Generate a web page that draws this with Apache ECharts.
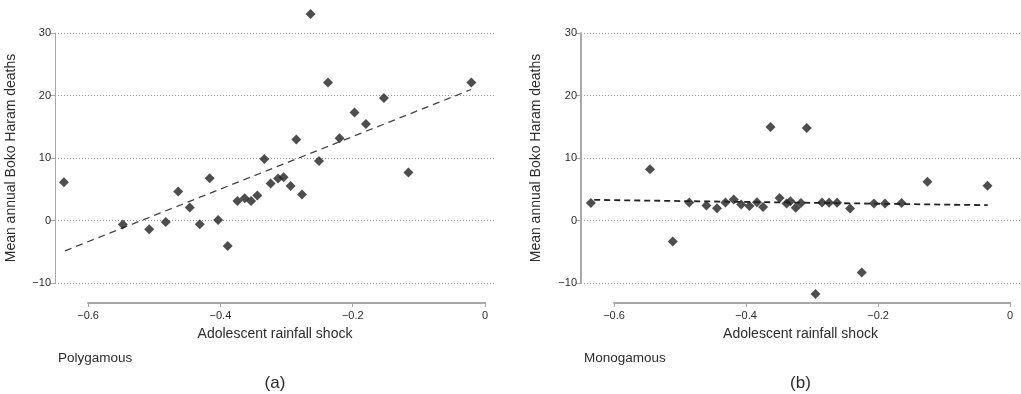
<!DOCTYPE html>
<html>
<head>
<meta charset="utf-8">
<script src="https://cdn.jsdelivr.net/npm/echarts@6/dist/echarts.min.js"></script>
<style>
  html, body { margin: 0; padding: 0; background: #fff; }
  #chart { width: 1021px; height: 394px; }
</style>
</head>
<body>
<div id="chart"></div>
<script>
// ---- Data ----
const polyX = [-0.6365, -0.5475, -0.5076, -0.4826, -0.4638, -0.4463, -0.4312, -0.4162, -0.4035, -0.389,
               -0.3743, -0.3633, -0.3537, -0.3442, -0.3336, -0.3241, -0.3129, -0.3045, -0.2939, -0.2853,
               -0.2767, -0.2637, -0.251, -0.2374, -0.2199, -0.1973, -0.1801, -0.1529, -0.1158, -0.0207];
const polyY = [6.13, -0.64, -1.39, -0.22, 4.64, 2.08, -0.59, 6.77, 0.1, -4.06,
               3.14, 3.57, 3.14, 4.0, 9.86, 5.92, 6.72, 6.93, 5.54, 12.96,
               4.16, 33.06, 9.54, 22.08, 13.17, 17.28, 15.46, 19.62, 7.68, 22.08];
const polyFitX = [-0.635, -0.021];
const polyFitY = [-4.86, 20.96];

const monoX = [-0.635, -0.5455, -0.511, -0.486, -0.46, -0.444, -0.4312, -0.4186, -0.4073, -0.3948,
               -0.3835, -0.3742, -0.3629, -0.3492, -0.3386, -0.3327, -0.3247, -0.3168, -0.308, -0.2948,
               -0.2848, -0.2742, -0.2621, -0.2424, -0.2247, -0.2062, -0.1895, -0.1644, -0.1252, -0.0342];
const monoY = [2.82, 8.21, -3.36, 2.9, 2.4, 1.97, 2.88, 3.38, 2.56, 2.34,
               2.93, 2.18, 14.98, 3.62, 2.72, 3.09, 2.05, 2.8, 14.82, -11.74,
               2.88, 2.85, 2.85, 1.94, -8.32, 2.74, 2.74, 2.82, 6.22, 5.57];
const monoFitX = [-0.63, -0.034];
const monoFitY = [3.3, 2.45];

const xTicks = { min: -0.6, max: 0, step: 0.2 };
const yTicks = { min: -10, max: 30, step: 10 };
const xTitle = 'Adolescent rainfall shock';
const yTitle = 'Mean annual Boko Haram deaths';
const panelNames = ['Polygamous', 'Monogamous'];
const panelLetters = ['(a)', '(b)'];

// ---- Layout ----
const FONT = '"Liberation Sans", Arial, Helvetica, sans-serif';
const TXT = '#2b2b2b';
const xMin = -0.65, xMax = 0.015;
const panels = [
  { left: 55, width: 440, yAxisW: 1, nameGap: 37,
    pts: polyX.map((x, i) => [x, polyY[i]]),
    fit: polyFitX.map((x, i) => [x, polyFitY[i]]),
    fitStyle: { type: [7, 5], width: 1.3, color: '#444' } },
  { left: 581, width: 439, yAxisW: 2, nameGap: 38,
    pts: monoX.map((x, i) => [x, monoY[i]]),
    fit: monoFitX.map((x, i) => [x, monoFitY[i]]),
    fitStyle: { type: [6, 4], width: 1.8, color: '#222' } }
];
const plotTop = 33, plotH = 250;
function px(p, v) { return p.left + (v - xMin) / (xMax - xMin) * p.width; }
const minus = s => String(s).replace('-', '\u2212');

const grid = [], xAxis = [], yAxis = [], series = [], graphic = [];
panels.forEach((p, k) => {
  const gData = grid.length;
  grid.push({ left: p.left, top: plotTop, width: p.width, height: plotH });
  const gAx = grid.length;
  const axL = px(p, xTicks.min), axR = px(p, xTicks.max);
  grid.push({ left: axL, top: 302, width: axR - axL, height: 1 });

  xAxis.push({ gridIndex: gData, type: 'value', min: xMin, max: xMax, show: false });
  yAxis.push({
    gridIndex: gData, type: 'value', min: yTicks.min, max: yTicks.max, interval: yTicks.step,
    position: 'left',
    axisLine: { show: true, onZero: false, lineStyle: { color: '#a8a8a8', width: p.yAxisW } },
    axisTick: { show: true, length: 5, lineStyle: { color: '#a8a8a8' } },
    axisLabel: { margin: 4, fontSize: 11, color: TXT, fontFamily: FONT, formatter: v => minus(v) },
    splitLine: { show: true, lineStyle: { type: [1, 2], color: '#9a9a9a', width: 1 } },
    name: yTitle, nameLocation: 'middle', nameGap: p.nameGap,
    nameTextStyle: { fontSize: 14, color: TXT, fontFamily: FONT }
  });
  xAxis.push({
    gridIndex: gAx, type: 'value', min: xTicks.min, max: xTicks.max, interval: xTicks.step,
    position: 'bottom',
    axisLine: { show: true, onZero: false, lineStyle: { color: '#a8a8a8', width: 2 } },
    axisTick: { show: true, length: 4, lineStyle: { color: '#a8a8a8' } },
    axisLabel: { margin: 7, fontSize: 11, color: TXT, fontFamily: FONT,
      formatter: v => Math.abs(v) < 1e-9 ? '0' : minus((+v).toFixed(1)) },
    splitLine: { show: false }
  });
  yAxis.push({ gridIndex: gAx, type: 'value', min: 0, max: 1, show: false });

  const xi = xAxis.length - 2, yi = yAxis.length - 2;
  series.push({
    type: 'line', xAxisIndex: xi, yAxisIndex: yi, data: p.fit, symbol: 'none',
    lineStyle: p.fitStyle, clip: false, z: 2, silent: true
  });
  series.push({
    type: 'scatter', xAxisIndex: xi, yAxisIndex: yi, data: p.pts,
    symbol: 'diamond', symbolSize: [10, 10], itemStyle: { color: '#222' }, clip: false, z: 3
  });

  const cx = p.left + p.width / 2;
  graphic.push({ type: 'text', x: cx, y: 334,
    style: { text: xTitle, font: '14px ' + FONT, fill: TXT, align: 'center', verticalAlign: 'middle' } });
  graphic.push({ type: 'text', x: p.left + 3, y: 358,
    style: { text: panelNames[k], font: '13.5px ' + FONT, fill: TXT, align: 'left', verticalAlign: 'middle' } });
  graphic.push({ type: 'text', x: cx, y: 383,
    style: { text: panelLetters[k], font: '17px ' + FONT, fill: TXT, align: 'center', verticalAlign: 'middle' } });
});

const chart = echarts.init(document.getElementById('chart'));
chart.setOption({
  animation: false,
  backgroundColor: '#fff',
  textStyle: { fontFamily: FONT },
  grid, xAxis, yAxis, series, graphic
});
</script>
</body>
</html>
